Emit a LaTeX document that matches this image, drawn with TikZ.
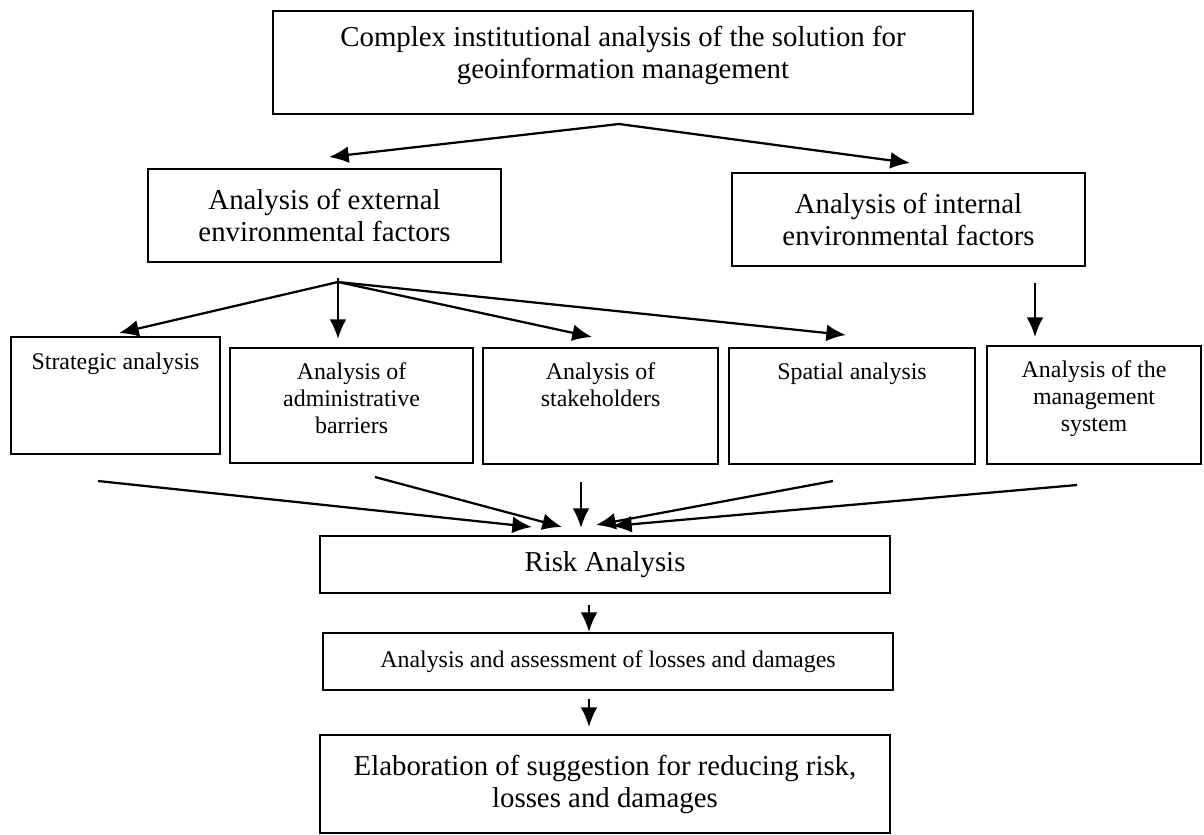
\documentclass[tikz,border=0pt]{standalone}
\usepackage{fontspec}
\setmainfont{Liberation Serif}
\usetikzlibrary{arrows.meta,positioning}

\begin{document}
\begin{tikzpicture}[
	box/.style={draw, line width=1.5pt, align=center, inner sep=0pt},
	big/.style={font=\fontsize{20.5}{22.8}\selectfont},
	small/.style={font=\fontsize{17}{19.2}\selectfont},
	lbl/.style={align=center, inner sep=0pt},
	arr/.style={line width=1.6pt, -{Latex[length=14pt,width=12pt]}}
]
	\useasboundingbox (0,0) rectangle (30.1,-20.875);

	% first two levels
	\node[box, minimum width=17.5cm, minimum height=2.575cm] (complex) at (15.575,-1.5625) {};
	\node[lbl, big] at ([yshift=0.18cm]complex.center) {Complex institutional analysis of the solution for\\geoinformation management};
	\node[box, big, minimum width=8.825cm, minimum height=2.325cm] (external) at (8.1125,-5.3875) {Analysis of external\\environmental factors};
	\node[box, big, minimum width=8.825cm, minimum height=2.325cm] (internal) at (22.7125,-5.4875) {Analysis of internal\\environmental factors};

	\coordinate (split) at (15.475,-3.1);
	\coordinate (extin) at (8.225,-3.925);
	\coordinate (intin) at (22.75,-4.075);
	\draw[arr] (split) -- (extin);
	\draw[arr] (split) -- (intin);

	% row of five analyses
	\node[box, minimum width=5.225cm, minimum height=2.925cm, anchor=north west] (strategic) at (0.25,-8.4) {};
	\node[box, minimum width=6.075cm, minimum height=2.875cm, anchor=north west] (admin) at (5.725,-8.675) {};
	\node[box, minimum width=5.875cm, minimum height=2.9cm, anchor=north west] (stake) at (12.05,-8.675) {};
	\node[box, minimum width=6.15cm, minimum height=2.9cm, anchor=north west] (spatial) at (18.2,-8.675) {};
	\node[box, minimum width=5.35cm, minimum height=2.95cm, anchor=north west] (mgmt) at (24.65,-8.625) {};

	\node[lbl, small, below=12pt of strategic.north] {Strategic analysis};
	\node[lbl, small, below=11pt of admin.north] {Analysis of\\administrative\\barriers};
	\node[lbl, small, below=11pt of stake.north] {Analysis of\\stakeholders};
	\node[lbl, small, below=11pt of spatial.north] {Spatial analysis};
	\node[lbl, small, below=11pt of mgmt.north] {Analysis of the\\management\\system};

	\coordinate (fan) at (8.45,-7.05);
	\coordinate (fantop) at (8.45,-6.95);
	\coordinate (strin) at (2.975,-8.325);
	\coordinate (admin in) at (8.45,-8.475);
	\coordinate (stkin) at (14.8,-8.425);
	\coordinate (spain) at (21.15,-8.375);
	\draw[arr] (fan) -- (strin);
	\draw[arr] (fantop) -- (admin in);
	\draw[arr] (fan) -- (stkin);
	\draw[arr] (fan) -- (spain);

	\coordinate (intout) at (25.875,-7.075);
	\coordinate (mgmtin) at (25.875,-8.425);
	\draw[arr] (intout) -- (mgmtin);

	% bottom chain
	\node[box, big, minimum width=14.25cm, minimum height=1.425cm] (risk) at (15.125,-14.1125) {Risk Analysis};
	\node[box, small, minimum width=14.25cm, minimum height=1.425cm] (losses) at (15.2,-16.5375) {Analysis and assessment of losses and damages};
	\node[box, big, minimum width=14.25cm, minimum height=2.45cm] (elab) at (15.125,-19.6) {Elaboration of suggestion for reducing risk,\\losses and damages};

	\coordinate (s1) at (2.45,-12.025);
	\coordinate (s2) at (9.375,-11.925);
	\coordinate (s3) at (14.525,-12.05);
	\coordinate (s4) at (20.825,-12.025);
	\coordinate (s5) at (26.925,-12.125);
	\coordinate (t1) at (13.3,-13.175);
	\coordinate (t2) at (14.05,-13.175);
	\coordinate (t3) at (14.525,-13.2);
	\coordinate (t4) at (14.9,-13.125);
	\coordinate (t5) at (15.3,-13.15);
	\draw[arr] (s1) -- (t1);
	\draw[arr] (s2) -- (t2);
	\draw[arr] (s3) -- (t3);
	\draw[arr] (s4) -- (t4);
	\draw[arr] (s5) -- (t5);

	\coordinate (riskout) at (14.725,-15.125);
	\coordinate (lossin) at (14.725,-15.8);
	\coordinate (lossout) at (14.725,-17.475);
	\coordinate (elabin) at (14.725,-18.175);
	\draw[arr] (riskout) -- (lossin);
	\draw[arr] (lossout) -- (elabin);
\end{tikzpicture}
\end{document}
